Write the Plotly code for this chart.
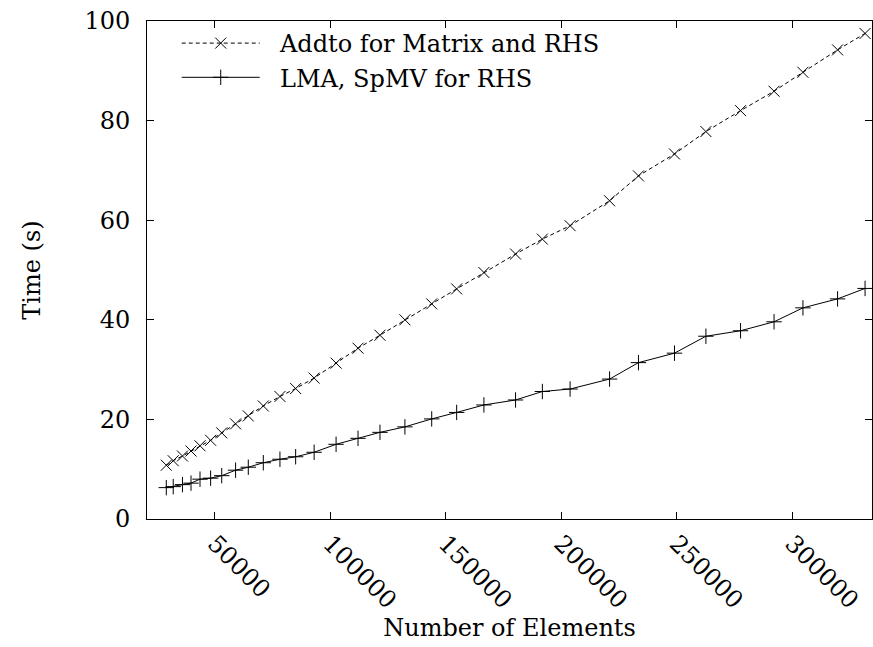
import plotly.graph_objects as go

elements = [29000, 32000, 36000, 39700, 43600, 48200, 53000, 59000, 64500, 71000,
            78200, 85000, 93000, 102500, 112000, 121500, 132300, 143900, 154700, 166500,
            180200, 191800, 203800, 220900, 233400, 249000, 262600, 277600, 292100, 304600,
            319600, 331500]
addto_time = [10.8, 11.7, 12.65, 13.65, 14.7, 15.8, 17.3, 19.1, 20.7, 22.7,
              24.6, 26.2, 28.3, 31.3, 34.3, 36.9, 40.0, 43.2, 46.2, 49.5,
              53.2, 56.2, 58.9, 63.9, 68.9, 73.3, 77.8, 82.0, 85.9, 89.7,
              94.2, 97.5]
lma_time = [6.3, 6.5, 6.9, 7.2, 8.0, 8.2, 8.7, 9.8, 10.4, 11.3,
            12.0, 12.5, 13.4, 15.0, 16.2, 17.4, 18.5, 20.1, 21.4, 22.9,
            23.9, 25.6, 26.1, 28.1, 31.4, 33.3, 36.7, 37.8, 39.6, 42.4,
            44.2, 46.3]
x_ticks = [50000, 100000, 150000, 200000, 250000, 300000]
y_ticks = [0, 20, 40, 60, 80, 100]
series_names = ["Addto for Matrix and RHS", "LMA, SpMV for RHS"]

FONT = "DejaVu Serif"
FS = 24
GAP = "\u00a0\u00a0"

fig = go.Figure()
fig.add_trace(go.Scatter(
    x=elements, y=addto_time, mode="lines+markers", name=GAP + series_names[0],
    line=dict(color="black", width=1, dash="4px,3px"),
    marker=dict(symbol="x-thin", size=11, line=dict(color="black", width=1), color="black"),
))
fig.add_trace(go.Scatter(
    x=elements, y=lma_time, mode="lines+markers", name=GAP + series_names[1],
    line=dict(color="black", width=1),
    marker=dict(symbol="cross-thin", size=11, line=dict(color="black", width=1), color="black"),
))

axis_common = dict(
    showline=True, linecolor="black", linewidth=1, mirror="ticks",
    ticks="inside", ticklen=7, tickcolor="black", tickwidth=1,
    showgrid=False, zeroline=False, automargin=False,
    tickfont=dict(family=FONT, size=FS, color="black"),
)

fig.update_layout(
    width=873, height=647,
    margin=dict(l=147, r=1, t=21, b=128),
    paper_bgcolor="white", plot_bgcolor="white",
    font=dict(family=FONT, size=FS, color="black"),
    xaxis=dict(range=[20650, 334500], tickvals=x_ticks, ticktext=[str(v) for v in x_ticks],
               tickangle=45,
               title=dict(text="Number of Elements", font=dict(family=FONT, size=FS), standoff=0),
               **axis_common),
    yaxis=dict(range=[0, 100], tickvals=y_ticks, ticklabelstandoff=11,
               title=dict(text="Time (s)", font=dict(family=FONT, size=FS), standoff=36),
               **axis_common),
    legend=dict(x=0.041, y=1.0, xanchor="left", yanchor="top", bgcolor="rgba(0,0,0,0)",
                font=dict(family=FONT, size=FS), tracegroupgap=0, itemwidth=78),
    showlegend=True,
)

fig.write_html("out.html", config={"displayModeBar": False},
               post_script="document.body.style.margin='0';document.body.style.overflow='hidden';")
